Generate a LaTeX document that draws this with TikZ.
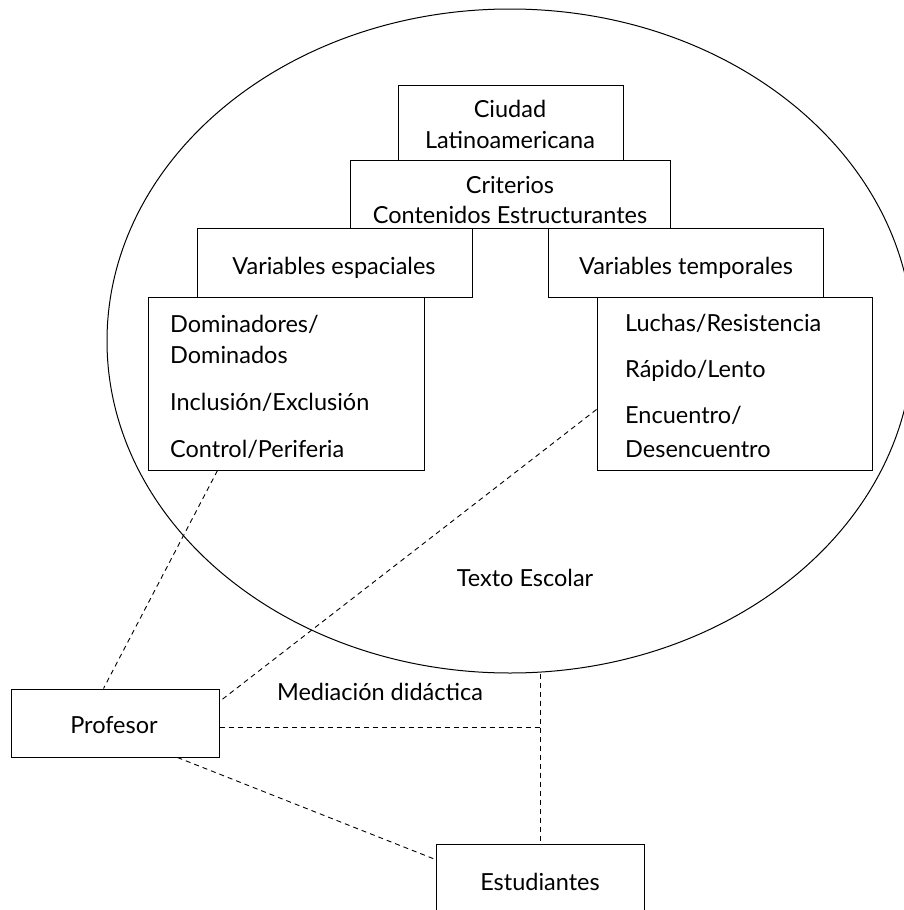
\documentclass[tikz,border=0pt]{standalone}
\usepackage{fontspec}
\setmainfont{Lato}
\usetikzlibrary{shapes.geometric,calc}
\tikzset{
  box/.style={draw, line width=1pt, rectangle, inner sep=0pt},
  lbl/.style={anchor=base, inner sep=0pt, font=\fontsize{23.5}{28}\selectfont},
  lbll/.style={anchor=base west, inner sep=0pt, font=\fontsize{23.5}{28}\selectfont},
  link/.style={line width=0.9pt, dash pattern=on 5pt off 4pt},
}
\begin{document}
\begin{tikzpicture}[x=1pt,y=-1pt]
\useasboundingbox (0,0) rectangle (903,910);
% ellipse (Texto Escolar)
\node[ellipse, draw, line width=1pt, minimum width=806pt, minimum height=664pt, inner sep=0pt] (ell) at (510,341) {};
% boxes
\node[box, minimum width=225pt, minimum height=75pt] (ciu) at (510.5,122.5) {};
\node[box, minimum width=320pt, minimum height=68pt] (cri) at (510,194) {};
\node[box, minimum width=275pt, minimum height=69pt] (vesp) at (334.5,262.5) {};
\node[box, minimum width=275pt, minimum height=69pt] (vtem) at (685.5,262.5) {};
\node[box, minimum width=276pt, minimum height=173pt] (dom) at (286,383.5) {};
\node[box, minimum width=275pt, minimum height=173pt] (luc) at (734.5,383.5) {};
\node[box, minimum width=208pt, minimum height=68pt] (prof) at (115,723) {};
\node[box, minimum width=208pt, minimum height=68pt] (est) at (540,878) {};
% texts
\node[lbl] (t1) at (510,117) {Ciudad};
\node[lbl] (t2) at (510,148) {Latinoamericana};
\node[lbl] (t3) at (510,193) {Criterios};
\node[lbl] (t4) at (510,223) {Contenidos Estructurantes};
\node[lbl] (t5) at (334,274) {Variables espaciales};
\node[lbl] (t6) at (686,274) {Variables temporales};
\node[lbll] (d1) at (170,332) {Dominadores/};
\node[lbll] (d2) at (170,363) {Dominados};
\node[lbll] (d3) at (170,410) {Inclusión/Exclusión};
\node[lbll] (d4) at (170,457) {Control/Periferia};
\node[lbll] (l1) at (625,331) {Luchas/Resistencia};
\node[lbll] (l2) at (625,377) {Rápido/Lento};
\node[lbll] (l3) at (625,423) {Encuentro/};
\node[lbll] (l4) at (625,457) {Desencuentro};
\node[lbl] (tes) at (525,586) {Texto Escolar};
\node[lbl] (med) at (380,700) {Mediación didáctica};
\node[lbl] (tp) at (114,733) {Profesor};
\node[lbl] (te) at (540,890) {Estudiantes};
% connectors
\draw[link] ($(dom.south west)+(70,0)$) -- ($(prof.north west)+(93,0)$);
\draw[link] ($(luc.north west)+(0,113)$) -- ($(prof.north east)+(0,13)$);
\draw[link] ($(prof.east)+(0,4)$) -- ($(prof.east -| est.north)+(0,4)$);
\draw[link] (est.north |- ell.south) -- (est.north);
\draw[link] ($(prof.south west)+(167,0)$) -- ($(est.north west)+(0,16)$);
\end{tikzpicture}
\end{document}
